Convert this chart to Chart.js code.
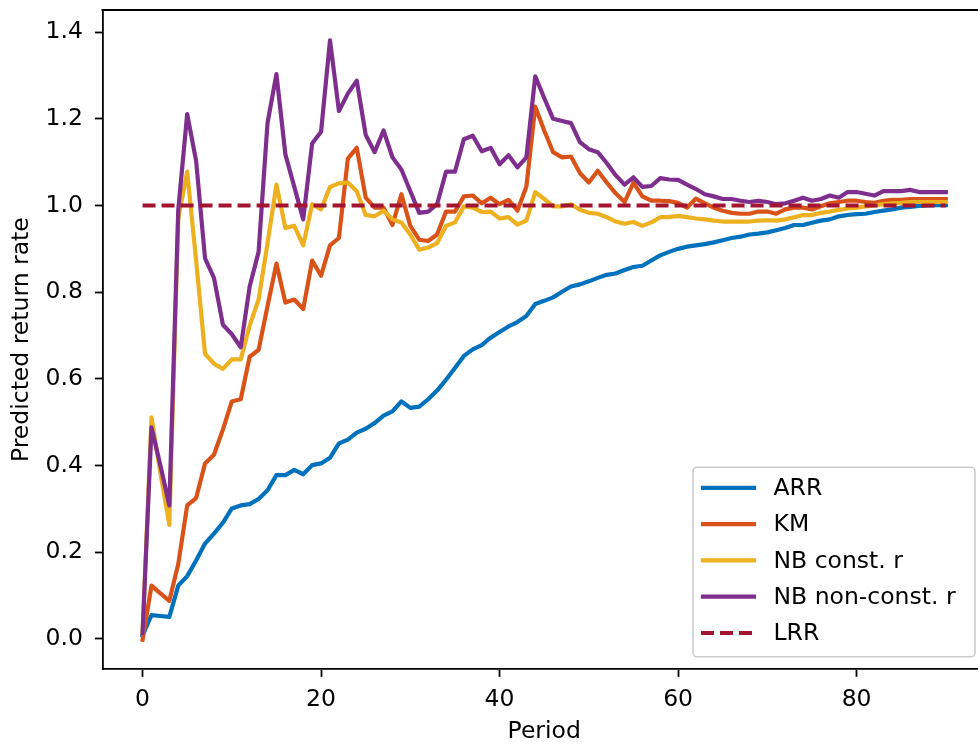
<!DOCTYPE html>
<html>
<head>
<meta charset="utf-8">
<script src="https://cdn.jsdelivr.net/npm/chart.js@4.4.0/dist/chart.umd.min.js"></script>
<style>
  html, body { margin: 0; padding: 0; background: #fff; overflow: hidden; }
  #wrap { width: 990px; height: 745px; }
</style>
</head>
<body>
<div id="wrap"><canvas id="grafico" width="990" height="745"></canvas></div>
<script>
// periodos (eixo x)
const periods = [0,1,2,3,4,5,6,7,8,9,10,11,12,13,14,15,16,17,18,19,20,21,22,23,24,25,26,27,28,29,
  30,31,32,33,34,35,36,37,38,39,40,41,42,43,44,45,46,47,48,49,50,51,52,53,54,55,56,57,58,59,
  60,61,62,63,64,65,66,67,68,69,70,71,72,73,74,75,76,77,78,79,80,81,82,83,84,85,86,87,88,89,90];

const arr = [0.008, 0.055, 0.053, 0.051, 0.123, 0.145, 0.181, 0.22, 0.243, 0.268,
  0.301, 0.308, 0.311, 0.323, 0.343, 0.378, 0.378, 0.39, 0.38, 0.401,
  0.405, 0.418, 0.451, 0.46, 0.476, 0.485, 0.498, 0.515, 0.525, 0.548,
  0.533, 0.536, 0.553, 0.573, 0.598, 0.625, 0.653, 0.668, 0.678, 0.695,
  0.708, 0.721, 0.731, 0.745, 0.773, 0.78, 0.788, 0.801, 0.813, 0.818,
  0.825, 0.833, 0.84, 0.843, 0.851, 0.858, 0.861, 0.873, 0.885, 0.893,
  0.9, 0.905, 0.908, 0.911, 0.915, 0.92, 0.925, 0.928, 0.933, 0.935,
  0.938, 0.943, 0.948, 0.955, 0.955, 0.96, 0.965, 0.968, 0.975, 0.978,
  0.98, 0.981, 0.985, 0.988, 0.991, 0.995, 0.997, 0.999, 1.0, 1.001, 1.001];

const km = [-0.002, 0.123, 0.105, 0.088, 0.173, 0.308, 0.325, 0.405, 0.425, 0.483,
  0.548, 0.553, 0.651, 0.667, 0.768, 0.866, 0.776, 0.783, 0.761, 0.873,
  0.838, 0.908, 0.925, 1.108, 1.133, 1.018, 0.995, 0.995, 0.955, 1.026,
  0.953, 0.921, 0.918, 0.933, 0.986, 0.986, 1.021, 1.023, 1.005, 1.018,
  1.003, 1.013, 0.988, 1.043, 1.228, 1.173, 1.123, 1.111, 1.113, 1.075,
  1.053, 1.08, 1.053, 1.028, 1.008, 1.053, 1.021, 1.011, 1.011, 1.01,
  1.006, 0.995, 1.016, 1.005, 0.995, 0.988, 0.983, 0.981, 0.981, 0.986,
  0.986, 0.981, 0.991, 0.995, 0.995, 0.991, 0.998, 1.005, 1.008, 1.011,
  1.011, 1.008, 1.006, 1.011, 1.013, 1.013, 1.015, 1.015, 1.015, 1.015, 1.015];

const nbConst = [0.013, 0.511, 0.383, 0.263, 0.97, 1.078, 0.873, 0.658, 0.635, 0.623,
  0.645, 0.645, 0.723, 0.783, 0.913, 1.048, 0.948, 0.953, 0.908, 1.003,
  0.991, 1.043, 1.051, 1.053, 1.033, 0.978, 0.975, 0.988, 0.968, 0.961,
  0.933, 0.898, 0.903, 0.913, 0.953, 0.961, 0.998, 0.995, 0.985, 0.986,
  0.97, 0.973, 0.956, 0.965, 1.031, 1.015, 0.998, 0.998, 1.003, 0.99,
  0.983, 0.981, 0.973, 0.963, 0.958, 0.962, 0.953, 0.961, 0.973, 0.973,
  0.976, 0.973, 0.97, 0.968, 0.965, 0.963, 0.963, 0.963, 0.963, 0.965,
  0.966, 0.965, 0.968, 0.973, 0.978, 0.978, 0.983, 0.986, 0.99, 0.993,
  0.995, 0.998, 1.0, 1.003, 1.005, 1.006, 1.008, 1.008, 1.008, 1.008, 1.008];

const nbNonConst = [0.013, 0.488, 0.40, 0.308, 0.99, 1.211, 1.103, 0.878, 0.833, 0.725,
  0.703, 0.673, 0.813, 0.893, 1.19, 1.303, 1.118, 1.043, 0.968, 1.143,
  1.17, 1.381, 1.218, 1.258, 1.288, 1.163, 1.123, 1.173, 1.111, 1.083,
  1.033, 0.983, 0.986, 1.003, 1.078, 1.078, 1.153, 1.161, 1.125, 1.133,
  1.095, 1.116, 1.088, 1.111, 1.298, 1.248, 1.2, 1.195, 1.19, 1.146,
  1.13, 1.123, 1.098, 1.07, 1.048, 1.065, 1.043, 1.045, 1.063, 1.06,
  1.059, 1.048, 1.038, 1.026, 1.021, 1.015, 1.015, 1.011, 1.008, 1.011,
  1.008, 1.003, 1.005, 1.011, 1.018, 1.011, 1.015, 1.023, 1.018, 1.031,
  1.031, 1.027, 1.023, 1.033, 1.033, 1.033, 1.036, 1.031, 1.031, 1.031, 1.031];

// LRR constante
const lrrPeriods = [0, 90];
const lrr = [1.0, 1.0];

const xTicks = [0, 20, 40, 60, 80];
const yTicks = [0.0, 0.2, 0.4, 0.6, 0.8, 1.0, 1.2, 1.4];

const fonte = 'DejaVu Sans';
const tamFonte = 23.5;
const espessura = 4.2;

function pontos(xs, ys) {
  return xs.map((x, i) => ({ x: x, y: ys[i] }));
}

// moldura de cima e da direita (spines do matplotlib)
const molduraPlugin = {
  id: 'moldura',
  afterDraw(chart) {
    const ctx = chart.ctx;
    const a = chart.chartArea;
    ctx.save();
    ctx.strokeStyle = '#000';
    ctx.lineWidth = 1.8;
    ctx.beginPath();
    ctx.moveTo(a.left - 0.9, a.top);
    ctx.lineTo(a.right, a.top);
    ctx.lineTo(a.right, a.bottom);
    ctx.stroke();
    ctx.restore();
  }
};

// legenda dentro da area do grafico, canto inferior direito
const legendaPlugin = {
  id: 'legenda',
  afterDraw(chart) {
    const ctx = chart.ctx;
    const a = chart.chartArea;
    const w = 282, h = 189.5;
    const x0 = a.right - 11 - w;
    const y0 = a.bottom - 12.5 - h;
    ctx.save();
    ctx.globalAlpha = 0.8;
    ctx.fillStyle = '#fff';
    ctx.beginPath();
    ctx.roundRect(x0, y0, w, h, 4);
    ctx.fill();
    ctx.globalAlpha = 1;
    ctx.strokeStyle = '#cccccc';
    ctx.lineWidth = 1.6;
    ctx.stroke();

    ctx.font = tamFonte + 'px "' + fonte + '"';
    ctx.textBaseline = 'middle';
    ctx.textAlign = 'left';
    chart.data.datasets.forEach((ds, i) => {
      const yy = y0 + 20.5 + i * 36.3;
      ctx.strokeStyle = ds.borderColor;
      ctx.lineWidth = ds.borderWidth;
      ctx.setLineDash(ds.borderDash || []);
      ctx.lineCap = ds.borderDash ? 'butt' : 'square';
      ctx.beginPath();
      ctx.moveTo(ds.borderDash ? x0 + 8 : x0 + 10, yy);
      ctx.lineTo(x0 + 61, yy);
      ctx.stroke();
      ctx.setLineDash([]);
      ctx.fillStyle = '#000';
      ctx.fillText(ds.label, x0 + 80.5, yy + 1);
    });
    ctx.restore();
  }
};

const config = {
  type: 'line',
  data: {
    datasets: [
      { label: 'ARR', data: pontos(periods, arr), borderColor: '#0072BD', borderWidth: espessura, order: 5 },
      { label: 'KM', data: pontos(periods, km), borderColor: '#D95319', borderWidth: espessura, order: 4 },
      { label: 'NB const. r', data: pontos(periods, nbConst), borderColor: '#EDB120', borderWidth: espessura, order: 3 },
      { label: 'NB non-const. r', data: pontos(periods, nbNonConst), borderColor: '#7E2F8E', borderWidth: espessura, order: 2 },
      { label: 'LRR', data: pontos(lrrPeriods, lrr), borderColor: '#A2142F', borderWidth: espessura, borderDash: [13, 6], borderCapStyle: 'butt', order: 1 }
    ]
  },
  options: {
    responsive: false,
    animation: false,
    devicePixelRatio: 1,
    layout: { padding: { top: 10, right: 4, left: 0, bottom: 0 } },
    elements: {
      point: { radius: 0, hoverRadius: 0 },
      line: { tension: 0, fill: false, borderCapStyle: 'square', borderJoinStyle: 'round' }
    },
    plugins: {
      legend: { display: false },
      tooltip: { enabled: false }
    },
    scales: {
      x: {
        type: 'linear',
        min: -4.5,
        max: 94.5,
        afterBuildTicks: (scale) => { scale.ticks = xTicks.map(v => ({ value: v })); },
        afterFit: (scale) => { scale.height = 75.7; scale.paddingLeft = 0; scale.paddingRight = 0; },
        grid: { drawOnChartArea: false, drawTicks: true, tickLength: 7.5, tickColor: '#000', tickWidth: 1.8 },
        border: { display: true, color: '#000', width: 1.8 },
        ticks: {
          color: '#000', padding: 9, maxRotation: 0, autoSkip: false,
          font: { family: fonte, size: tamFonte },
          callback: (v) => String(v)
        },
        title: {
          display: true, text: 'Period', color: '#000',
          font: { family: fonte, size: tamFonte, lineHeight: 1.0 },
          padding: { top: 0, bottom: 1 }
        }
      },
      y: {
        type: 'linear',
        min: -0.07,
        max: 1.451,
        afterBuildTicks: (scale) => { scale.ticks = yTicks.map(v => ({ value: v })); },
        afterFit: (scale) => { scale.width = 102.4; scale.paddingTop = 0; scale.paddingBottom = 0; },
        grid: { drawOnChartArea: false, drawTicks: true, tickLength: 7.5, tickColor: '#000', tickWidth: 1.8 },
        border: { display: true, color: '#000', width: 1.8 },
        ticks: {
          color: '#000', padding: 12, autoSkip: false,
          font: { family: fonte, size: tamFonte },
          callback: (v) => Number(v).toFixed(1)
        },
        title: {
          display: true, text: 'Predicted return rate', color: '#000',
          font: { family: fonte, size: tamFonte },
          padding: { top: 8, bottom: 0 }
        }
      }
    }
  },
  plugins: [molduraPlugin, legendaPlugin]
};

let chart_retorno = new Chart(document.getElementById('grafico'), config);
</script>
</body>
</html>
